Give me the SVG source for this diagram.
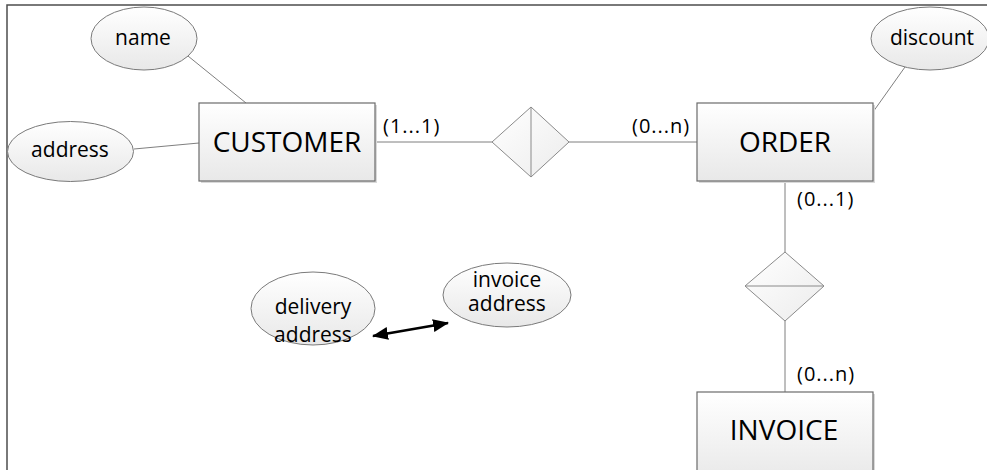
<svg xmlns="http://www.w3.org/2000/svg" width="987" height="470" viewBox="0 0 987 470">
  <defs>
    <linearGradient id="shade" x1="0" y1="0" x2="0" y2="1">
      <stop offset="0" stop-color="#ffffff"/>
      <stop offset="1" stop-color="#e8e8e8"/>
    </linearGradient>
    <linearGradient id="shadeDiamond" x1="0" y1="0" x2="1" y2="1">
      <stop offset="0" stop-color="#ffffff"/>
      <stop offset="1" stop-color="#ececec"/>
    </linearGradient>
    <marker id="head" viewBox="0 0 16 13" refX="15" refY="6.5" markerWidth="16" markerHeight="13" markerUnits="userSpaceOnUse" orient="auto-start-reverse">
      <path d="M0,0 L16,6.5 L0,13 Z" fill="#000"/>
    </marker>
  </defs>
  <style>
    .frame { stroke: #4d4d4d; stroke-width: 1.5; fill: none; }
    .entity { fill: url(#shade); stroke: #6b6b6b; stroke-width: 1.2; }
    .shadow { fill: #d9d9d9; }
    .attr { fill: url(#shade); stroke: #7a7a7a; stroke-width: 1; }
    .rel { fill: url(#shadeDiamond); stroke: #8a8a8a; stroke-width: 1; }
    .link { stroke: #7f7f7f; stroke-width: 1; fill: none; }
    .big { font-family: "Open Sans", "Noto Sans", sans-serif; font-size: 28px; fill: #000; text-anchor: middle; }
    .lbl { font-family: "Open Sans", "Noto Sans", sans-serif; font-size: 21px; fill: #000; text-anchor: middle; }
    .card { font-family: "Open Sans", "Noto Sans", sans-serif; font-size: 20px; fill: #000; letter-spacing: 1px; }
    .arrow { stroke: #000; stroke-width: 2.7; fill: none; }
  </style>

  <rect width="987" height="470" fill="#ffffff"/>
  <!-- page frame -->
  <path class="frame" d="M7,470 L7,5 L987,5"/>

  <!-- connectors -->
  <g id="connectors">
    <line class="link" x1="188" y1="56" x2="246" y2="103"/>
    <line class="link" x1="134" y1="149" x2="199" y2="143"/>
    <line class="link" x1="905" y1="67" x2="873" y2="112"/>
    <line class="link" x1="375" y1="142" x2="492" y2="142"/>
    <line class="link" x1="569" y1="142" x2="697" y2="142"/>
    <line class="link" x1="785" y1="181" x2="785" y2="252"/>
    <line class="link" x1="785" y1="321" x2="785" y2="392"/>
    <line class="arrow" x1="373" y1="336" x2="448" y2="323" marker-start="url(#head)" marker-end="url(#head)"/>
    <text class="card" x="383" y="133">(1...1)</text>
    <text class="card" x="632" y="133">(0...n)</text>
    <text class="card" x="797" y="206">(0...1)</text>
    <text class="card" x="797" y="381">(0...n)</text>
  </g>

  <!-- entities -->
  <g id="customer">
    <rect class="shadow" x="201" y="105" width="176" height="78"/>
    <rect class="entity" x="199" y="103" width="176" height="78"/>
    <text class="big" x="287" y="152">CUSTOMER</text>
  </g>
  <g id="order">
    <rect class="shadow" x="699" y="105" width="176" height="78"/>
    <rect class="entity" x="697" y="103" width="176" height="78"/>
    <text class="big" x="785" y="152">ORDER</text>
  </g>
  <g id="invoice">
    <rect class="shadow" x="699" y="394" width="176" height="90"/>
    <rect class="entity" x="697" y="392" width="176" height="90"/>
    <text class="big" x="784" y="440">INVOICE</text>
  </g>

  <!-- relationships -->
  <g id="places">
    <polygon class="rel" points="492,142 531,107 569,142 531,177"/>
    <line class="rel" x1="531" y1="107" x2="531" y2="177"/>
  </g>
  <g id="billed">
    <polygon class="rel" points="745,286 785,252 824,286 785,321"/>
    <line class="rel" x1="745" y1="286" x2="824" y2="286"/>
  </g>

  <!-- attributes -->
  <g id="name">
    <ellipse class="attr" cx="144" cy="38.5" rx="53" ry="31.5"/>
    <text class="lbl" x="143" y="45">name</text>
  </g>
  <g id="address">
    <ellipse class="attr" cx="70.5" cy="151.5" rx="63" ry="30"/>
    <text class="lbl" x="70" y="157">address</text>
  </g>
  <g id="discount">
    <ellipse class="attr" cx="930" cy="38.5" rx="59" ry="31.5"/>
    <text class="lbl" x="932" y="45">discount</text>
  </g>
  <g id="delivery-address">
    <ellipse class="attr" cx="313" cy="308.5" rx="62" ry="36.5"/>
    <text class="lbl" x="313" y="314">delivery</text>
    <text class="lbl" x="313" y="342">address</text>
  </g>
  <g id="invoice-address">
    <ellipse class="attr" cx="507" cy="295" rx="64" ry="32"/>
    <text class="lbl" x="507" y="287">invoice</text>
    <text class="lbl" x="507" y="311">address</text>
  </g>
</svg>
